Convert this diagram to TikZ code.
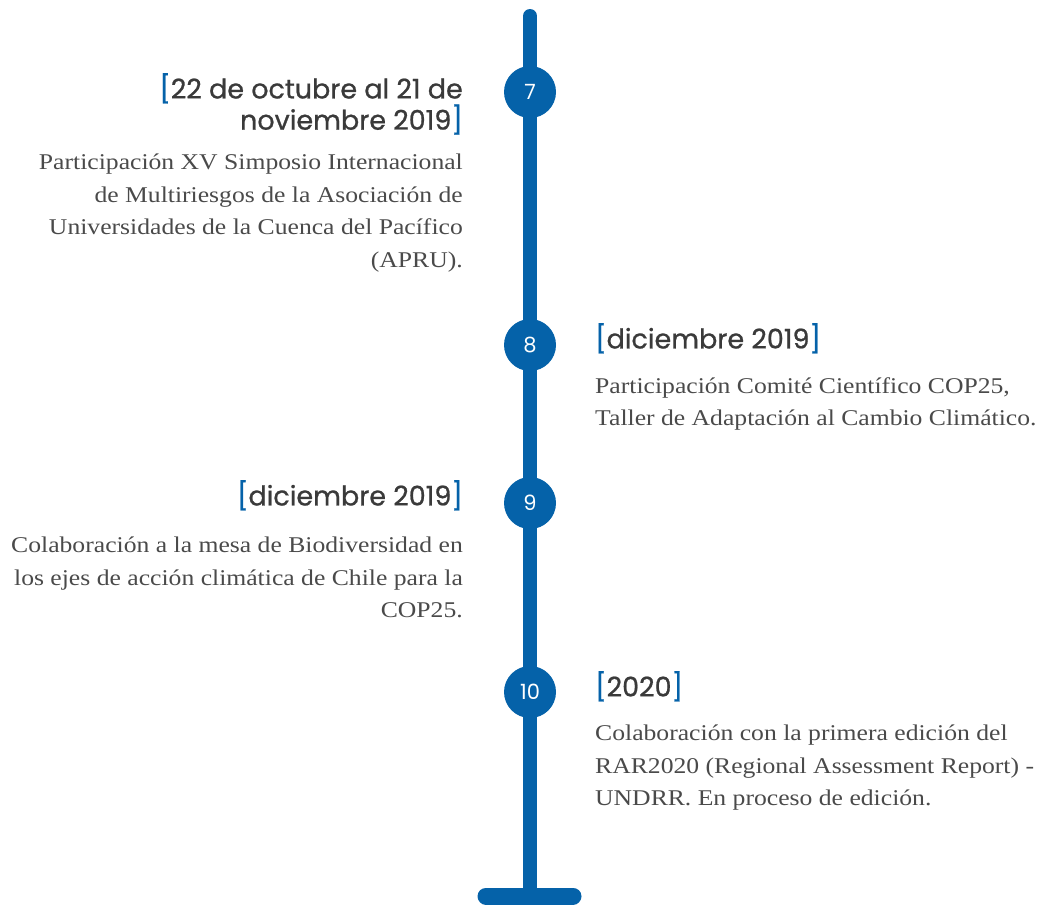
\documentclass[tikz,border=0pt]{standalone}
\usepackage{fontspec}
\setmainfont{Liberation Serif}[FakeStretch=1.14]
\newfontfamily\headfont{Poppins}[FakeBold=0.8]
\newfontfamily\numfont{Poppins}
\definecolor{tlblue}{HTML}{0562A9}
\definecolor{headgray}{HTML}{3A3A3A}
\definecolor{bodygray}{HTML}{4A4A4A}
\tikzset{
  dot/.style={circle, fill=tlblue, minimum size=52pt, inner sep=0pt, text=white, font=\numfont\fontsize{21}{21}\selectfont},
  headR/.style={anchor=north east, align=right, inner sep=0pt, text=headgray, font=\headfont\fontsize{27}{30}\selectfont},
  headL/.style={anchor=north west, align=left, inner sep=0pt, text=headgray, font=\headfont\fontsize{27}{30}\selectfont},
  bodyR/.style={anchor=north east, align=right, inner sep=0pt, text=bodygray, font=\fontsize{22.5}{32.5}\selectfont},
  bodyL/.style={anchor=north west, align=left, inner sep=0pt, text=bodygray, font=\fontsize{22.5}{32.5}\selectfont},
}
\newcommand{\lb}{\textcolor{tlblue}{[}}
\newcommand{\rb}{\textcolor{tlblue}{]}}
\begin{document}
\begin{tikzpicture}[x=1pt,y=-1pt]
\useasboundingbox (0,0) rectangle (1040,905);
\coordinate (top) at (530,16);
\coordinate (bot) at (530,896);
\coordinate (bl) at (486,896);
\coordinate (br) at (573,896);
\draw[tlblue, line width=14pt, line cap=round] (top) -- (bot);
\draw[tlblue, line width=17pt, line cap=round] (bl) -- (br);
\node[dot] (d7) at (530,92) {7};
\node[dot] (d8) at (530,345) {8};
\node[dot] (d9) at (530,503) {9};
\node[dot] (d10) at (530,692) {10};

\node[headR] (h7) at (463,73) {\lb22 de octubre al 21 de\\noviembre 2019\rb};
\node[bodyR] (b7) at (463,154) {Participación XV Simposio Internacional\\de Multiriesgos de la Asociación de\\Universidades de la Cuenca del Pacífico\\(APRU).};

\node[headL] (h8) at (595,323) {\lb diciembre 2019\rb};
\node[bodyL] (b8) at (595,377) {Participación Comité Científico COP25,\\Taller de Adaptación al Cambio Climático.};

\node[headR] (h9) at (463,480) {\lb diciembre 2019\rb};
\node[bodyR] (b9) at (463,537) {Colaboración a la mesa de Biodiversidad en\\los ejes de acción climática de Chile para la\\COP25.};

\node[headL] (h10) at (595,671) {\lb 2020\rb};
\node[bodyL] (b10) at (595,725) {Colaboración con la primera edición del\\RAR2020 (Regional Assessment Report) -\\UNDRR. En proceso de edición.};
\end{tikzpicture}
\end{document}
